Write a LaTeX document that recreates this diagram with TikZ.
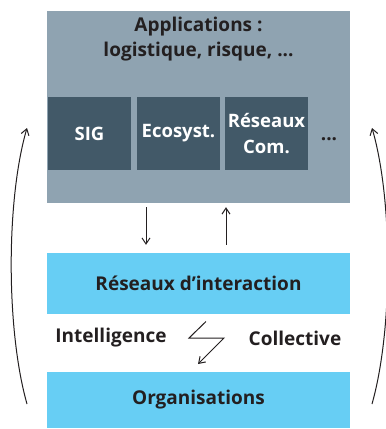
\documentclass[tikz,border=0pt]{standalone}
\usepackage{fontspec}
\setmainfont{Open Sans}
\usetikzlibrary{arrows.meta}
\definecolor{appgray}{HTML}{8FA3B1}
\definecolor{darkbox}{HTML}{425968}
\definecolor{cyanbox}{HTML}{67CEF4}
\definecolor{txt}{HTML}{231F20}
\tikzset{
  wide/.style={rectangle, inner sep=0pt, minimum width=303pt},
  sub/.style={rectangle, fill=darkbox, inner sep=0pt, minimum width=83pt, minimum height=73pt,
    text=white, font=\fontsize{18.5}{26}\selectfont\bfseries, align=center},
  lbl/.style={text=txt, font=\fontsize{19}{24.5}\selectfont\bfseries, align=center, inner sep=0pt},
  arr/.style={-{Straight Barb[length=6pt,width=8pt]}, line width=1pt, draw=txt},
}
\begin{document}
\begin{tikzpicture}[x=1pt,y=-1pt]
\useasboundingbox (0,0) rectangle (386,429);
% main application box
\node[wide, fill=appgray, minimum height=192pt] (app) at (198.5,107) {};
\node[lbl] (title) at (198.5,39) {Applications :\\logistique, risque, ...};
\node[sub] (sig) at (89.5,133.5) {SIG};
\node[sub] (eco) at (178.5,133.5) {Ecosyst.};
\node[sub] (res) at (266.5,133.5) {Réseaux\\Com.};
\node[lbl] (dots) at (329,139) {...};
% lower boxes
\node[wide, fill=cyanbox, minimum height=61pt, lbl] (ri) at (198.5,283.5) {Réseaux d’interaction};
\node[wide, fill=cyanbox, minimum height=56pt, lbl] (org) at (198.5,400) {Organisations};
\node[lbl] (intel) at (111,338) {Intelligence};
\node[lbl] (coll) at (295,338) {Collective};
% vertical arrows
\coordinate (xa) at (146,0);
\coordinate (xb) at (226,0);
\draw[arr, shorten <=4pt, shorten >=8pt] (app.south -| xa) -- (ri.north -| xa);
\draw[arr, shorten <=8pt, shorten >=4pt] (ri.north -| xb) -- (app.south -| xb);
% lightning
\coordinate (z1) at (206,321.5);
\coordinate (z2) at (189,338);
\coordinate (z3) at (224,338);
\coordinate (z4) at (198,364);
\draw[arr, line join=miter] (z1) -- (z2) -- (z3) -- (z4);
% side curved arrows
\coordinate (l1) at (27,404);
\coordinate (l2) at (27,128);
\coordinate (r1) at (372,404);
\coordinate (r2) at (372,128);
\draw[arr] (l1) .. controls (6,330) and (6,200) .. (l2);
\draw[arr] (r1) .. controls (393,330) and (393,200) .. (r2);
\end{tikzpicture}
\end{document}
